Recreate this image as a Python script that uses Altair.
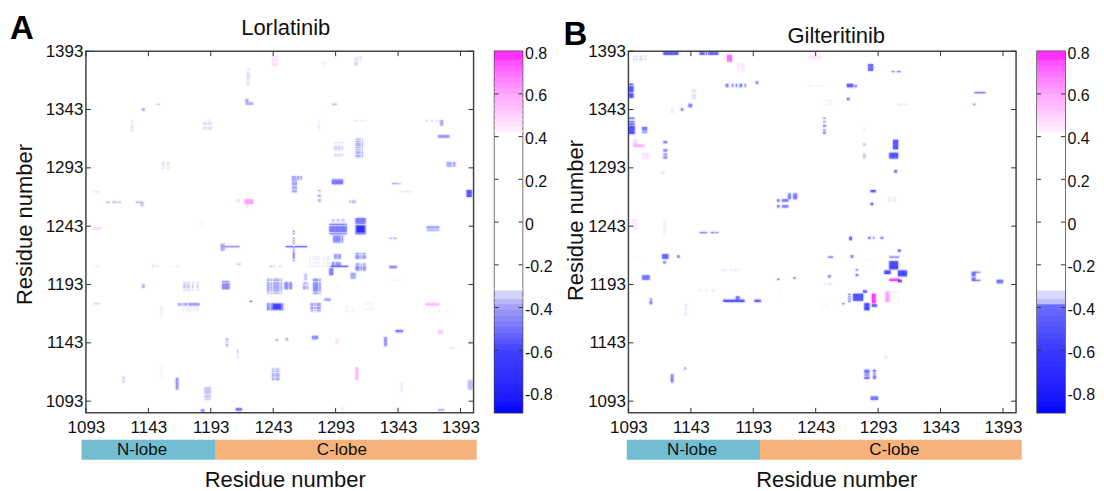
import altair as alt
import pandas as pd

FONT = "Liberation Sans"
x_ticks = [1093, 1143, 1193, 1243, 1293, 1343, 1393]
y_ticks = [1093, 1143, 1193, 1243, 1293, 1343, 1393]
bar_ticks = [-0.8, -0.6, -0.4, -0.2, 0, 0.2, 0.4, 0.6, 0.8]
band_edges = [-0.893, -0.865, -0.84, -0.81, -0.785, -0.76, -0.73, -0.705, -0.68, -0.65, -0.625, -0.6, -0.57, -0.545,
              -0.52, -0.49, -0.465, -0.44, -0.41, -0.385, -0.36, -0.32,
              0.42, 0.445, 0.47, 0.495, 0.52, 0.545, 0.57, 0.6, 0.625, 0.65, 0.68, 0.705, 0.73, 0.76, 0.8]

# (residues on x, residues on y, correlation)
lorlatinib_cells = [
    ([1238,1239,1241,1242,1243,1244,1245,1246,1247,1248,1249,1250], [1171,1172,1173,1174,1175,1176], -0.5),
    ([1243,1244,1245,1246,1247,1248], [1172,1173,1174,1175], -0.8),
    ([1238,1239,1241,1243,1244,1245,1246,1247,1249], [1185,1187,1188,1189,1190,1191,1192,1193,1194,1196,1197], -0.42),
    ([1252,1253,1254,1256,1257], [1189,1190,1191,1192,1193,1194], -0.5),
    ([1275,1276,1277,1278,1280], [1185,1187,1188,1189,1190,1191,1192,1193,1194,1196,1197], -0.5),
    ([1273,1274,1276,1278,1279,1280], [1170,1172,1173,1175,1176], -0.5),
    ([1267,1268,1270], [1189,1190,1191,1193], -0.45),
    ([1202,1203,1204,1205,1206,1207], [1189,1190,1191,1192,1193,1195], -0.5),
    ([1171,1172,1174,1175,1178,1182], [1188,1190,1191,1192,1194], -0.37),
    ([1167,1168,1170,1172,1173,1175,1176,1177,1178,1179,1180,1181,1182,1183], [1175,1176], -0.48),
    ([1171,1174,1176,1179,1182], [1170,1172], -0.34),
    ([1288,1289,1290,1291,1292,1293,1294,1295,1296,1297,1298,1299,1300,1301], [1236,1238,1239,1240,1241,1242,1244], -0.55),
    ([1290,1291,1294,1295,1298,1299], [1247,1248], -0.38),
    ([1291,1292,1293,1294,1295,1296,1298], [1229,1230,1231,1232,1233,1234], -0.5),
    ([1309,1310,1311,1312,1313,1314,1315,1316], [1236,1237,1238,1239,1240,1241,1242,1243,1245,1246,1247,1248,1249], -0.55),
    ([1310,1311,1312,1313,1314,1315], [1238,1239,1240,1241,1242], -0.85),
    ([1253,1254,1255,1256,1257,1258,1260,1261,1262,1263,1264,1265,1266,1267,1268,1269], [1225], -0.6),
    ([1259], [1213,1215,1216,1217,1218,1219,1220,1222,1224,1228,1230,1232,1236,1238], -0.6),
    ([1201,1202,1203,1204,1205,1206,1207,1208,1209,1210,1211,1212,1213,1214,1215], [1225], -0.5),
    ([1201,1202,1203], [1222,1223,1224,1226,1227], -0.4),
    ([1289,1290,1291,1292,1293,1294,1295,1296,1297,1298,1299,1300,1301,1302], [1208], -0.7),
    ([1290,1291,1293,1294,1295,1296], [1209,1210,1211], -0.5),
    ([1292,1293,1295,1296], [1215,1216,1217,1218], -0.5),
    ([1309,1310,1311,1313,1315,1316], [1205,1206,1207,1208,1210,1215,1216,1217,1219], -0.5),
    ([1288,1289,1290], [1201,1202,1203,1204,1205,1206], -0.55),
    ([1290,1291,1292,1293,1294,1295,1296,1297,1298], [1279,1280,1281,1282], -0.55),
    ([1258,1259,1260,1262,1263,1265], [1283,1284,1285], -0.45),
    ([1258,1259,1260,1261], [1272,1273,1275,1276,1278,1279,1280,1282], -0.45),
    ([1309,1310,1311,1312,1314], [1302,1303,1305,1306,1308,1310,1312,1313,1315,1317], -0.42),
    ([1292,1293,1295,1296,1298], [1303,1304,1308,1309,1310,1311,1314], -0.35),
    ([1366,1367,1368,1369,1370,1371,1372,1373,1374,1375], [1239,1241,1242], -0.45),
    ([1375,1376,1377,1378,1379,1380,1381,1382,1383], [1319,1320], -0.5),
    ([1382,1383,1384,1385,1387,1388], [1294,1295,1296,1297], -0.42),
    ([1398,1399,1400,1401], [1268,1269,1270,1271,1272,1273], -0.75),
    ([1341,1342,1343,1344,1345,1346], [1152,1153], -0.55),
    ([1332,1333], [1140,1141,1142,1143,1144,1145,1146,1147], -0.5),
    ([1242,1243,1245,1246,1247], [1111,1112,1114,1115,1116,1118,1120], -0.42),
    ([1309,1310], [1111,1112,1113,1114,1115,1116,1117,1118,1119,1120,1121], 0.6),
    ([1165,1166], [1103,1104,1105,1106,1107,1108,1109,1110,1111,1112], -0.48),
    ([1188,1189,1190,1191,1192], [1094,1096,1097,1099,1100,1101,1102,1103,1104], -0.37),
    ([1213,1214,1215,1216,1217], [1085,1086], -0.6),
    ([1399,1400,1401,1402], [1103,1104,1105,1106,1107,1108,1109,1110], -0.38),
    ([1345,1346], [1101,1103,1104,1106,1108], -0.33),
    ([1220,1221,1222,1223,1224,1225,1226], [1262,1263,1264,1265], 0.65),
    ([1221,1222], [1259,1260,1261], 0.5),
    ([1214,1215], [1264,1265], 0.55),
    ([1242,1243,1244,1245,1246], [1381,1382,1384,1385,1386,1388], 0.48),
    ([1222,1223], [1364,1366,1368,1370,1371,1372,1374,1377], -0.35),
    ([1221,1222,1223,1224,1225,1226], [1347,1348], -0.42),
    ([1221,1222], [1349,1350,1351], -0.45),
    ([1098,1099,1100,1101,1102,1103,1104], [1240,1241], 0.5),
    ([1109,1110,1111,1114,1115,1116,1117,1119,1120], [1263], -0.4),
    ([1133,1134,1135,1136,1137,1138], [1263], -0.42),
    ([1137,1138], [1260,1261,1262], -0.38),
    ([1365,1366,1367,1368,1369,1370,1371,1372,1373,1374,1375], [1175,1176], 0.6),
    ([1365,1366,1369,1370,1373,1375], [1333], -0.35),
    ([1377,1378], [1329,1330,1331,1332,1333], -0.45),
    ([1129,1130], [1324,1325,1327,1328,1329,1331,1333], -0.33),
    ([1187,1188,1189,1191,1192,1193], [1326,1327,1330,1331], -0.34),
    ([1191], [1333,1334], -0.33),
    ([1154,1155,1158,1159], [1292,1293,1295,1296,1297], -0.33),
    ([1336,1337,1338,1339,1340,1341], [1207,1208], -0.5),
    ([1336,1337,1339,1340,1341], [1232], -0.4),
    ([1279], [1325,1327,1328,1330,1333], -0.34),
    ([1279,1280], [1264,1265,1268,1269,1273], -0.42),
    ([1338,1339,1340,1341,1342,1344], [1279], -0.42),
    ([1345,1347,1349,1350,1351,1353], [1272], -0.34),
    ([1308,1309,1312,1314,1316], [1333], -0.33),
    ([1290,1291,1292,1293], [1347], -0.4),
    ([1150,1151], [1347], -0.4),
    ([1138,1139], [1342,1343], -0.45),
    ([1099,1100,1101,1102,1103], [1272], -0.33),
    ([1099,1100,1101,1102,1103], [1176], -0.36),
    ([1153], [1166,1168,1170,1172,1173], -0.34),
    ([1153], [1113,1115,1118,1120,1122], -0.33),
    ([1205,1206], [1140,1141,1143,1145,1146], -0.38),
    ([1214], [1130,1132,1134,1135,1136], -0.37),
    ([1274,1275,1276,1277,1278], [1146,1147,1148], -0.5),
    ([1245,1246], [1145], -0.45),
    ([1253,1254], [1145,1146], -0.4),
    ([1268,1269], [1194,1197,1199,1201], -0.45),
    ([1272,1275,1277,1279,1283,1286,1287], [1208,1211,1214,1216], -0.34),
    ([1305,1306,1307,1308], [1198,1199,1200,1201,1202], -0.42),
    ([1304,1306,1307,1308], [1263,1264], -0.4),
    ([1224,1225], [1178], -0.55),
    ([1284,1285,1286,1287,1288], [1179,1180], -0.45),
    ([1146,1147,1150], [1208,1209], -0.33),
    ([1162,1165,1167], [1208], -0.33),
    ([1240,1241,1243,1248], [1208], -0.38),
    ([1138,1139], [1190,1191,1192], -0.42),
    ([1122,1123], [1109,1110,1112,1113], -0.36),
    ([1214,1215,1216], [1210], -0.37),
    ([1375,1376,1378,1382], [1170], -0.33),
    ([1375,1376,1377,1378,1379], [1085], -0.45),
    ([1185,1186,1187], [1084,1085], -0.5),
    ([1375,1376,1377,1378], [1151,1152,1153], 0.55),
    ([1399,1400,1401], [1142,1143,1144], 0.5),
    ([1384,1385,1386,1388], [1138], -0.33),
    ([1340,1341,1342,1343,1344], [1086,1085], 0.45),
    ([1297,1298,1299], [1085,1086,1087], 0.45),
    ([1293,1294], [1142,1143,1144,1145], 0.5),
    ([1098,1100,1101,1102,1103], [1208], 0.45),
    ([1338,1339,1341,1342,1343], [1196], 0.45),
    ([1316,1318,1320,1322], [1171,1172,1176,1177], 0.45),
    ([1282,1283,1284], [1380,1382,1383], 0.45),
    ([1294,1295], [1188,1190,1192], 0.44),
    ([1301,1302,1306,1307], [1169,1170,1173], 0.45),
    ([1184,1185,1186], [1244,1245,1246], 0.44),
    ([1312,1313], [1384,1386,1387,1388], -0.33),
    ([1308,1309,1310], [1381,1382,1383,1385,1387], -0.34),
]

# (residues on x, residues on y, correlation)
gilteritinib_cells = [
    ([1121,1122,1123,1124,1125,1126,1127,1128,1129,1130,1131,1132], [1390,1391], -0.8),
    ([1150,1151,1152,1153,1155,1157,1158,1159,1160,1161,1162,1163,1164], [1390,1391], -0.7),
    ([1172,1173,1174,1175], [1384,1385,1386,1387,1388,1389], 0.75),
    ([1169,1170,1176], [1387,1389], 0.45),
    ([1180,1181,1183,1184,1185], [1376,1378,1379,1380,1381,1382], 0.47),
    ([1237,1238,1239,1240,1241,1242,1244,1245,1246,1247], [1386,1387,1388], 0.46),
    ([1285,1286,1287,1288], [1376,1377,1378,1379,1380,1381], -0.55),
    ([1304,1305,1308,1309,1310], [1375], -0.42),
    ([1171,1172,1176,1179,1182,1183,1186], [1362,1363,1364], -0.42),
    ([1195,1196], [1365,1366], -0.45),
    ([1268,1269,1270,1271,1272], [1362,1363,1364], -0.6),
    ([1274,1275], [1362,1363], -0.42),
    ([1370,1371,1372,1373,1374,1375,1376,1377,1378], [1357], -0.5),
    ([1093,1094,1095,1096], [1353,1354,1355,1356,1358,1359,1360,1361,1362,1364], -0.7),
    ([1093,1094,1095,1096,1097], [1322,1323,1324,1325,1326,1327,1328,1330,1332,1335], -0.7),
    ([1104,1105,1106,1107], [1323,1325,1326,1327], -0.5),
    ([1097,1098,1099,1100,1101,1102,1103,1104,1105], [1311,1312], 0.62),
    ([1097,1098,1099], [1313,1314,1316], 0.55),
    ([1104,1105,1106,1107,1108,1109], [1301,1302,1303,1304,1305], 0.46),
    ([1121,1122,1123], [1301,1302,1304,1307,1308,1314,1315], -0.42),
    ([1144,1145,1146], [1358,1359,1354,1355,1352], -0.34),
    ([1141,1142,1143], [1345,1346,1347], -0.42),
    ([1135,1136], [1342,1343], -0.45),
    ([1127,1128], [1340,1341,1343], -0.33),
    ([1249,1250], [1322,1323,1325,1328,1329,1332,1335], -0.43),
    ([1305,1306,1307,1308], [1309,1310,1311,1312,1313,1314,1315,1316], -0.7),
    ([1302,1303,1304,1305,1306,1307,1308], [1301,1302,1303,1304,1305], -0.7),
    ([1306,1307], [1289,1290], -0.7),
    ([1287,1288,1289,1290], [1272,1273], -0.7),
    ([1287,1288], [1261,1262], -0.55),
    ([1301,1302,1305,1306], [1264,1265,1267], -0.33),
    ([1221,1222,1225,1226,1227], [1266,1267,1268,1269,1270], -0.48),
    ([1212,1213,1216,1217,1218,1219,1220], [1259,1260,1264,1265], -0.5),
    ([1150,1151,1152,1153,1154,1155,1159,1160,1161,1163,1164], [1237], -0.42),
    ([1096,1097,1098,1099], [1240,1241,1243,1245,1247,1248], 0.46),
    ([1121,1122], [1236,1238,1240,1243,1245,1247], -0.33),
    ([1270,1271], [1231,1232,1233], -0.6),
    ([1285,1286,1289,1295,1296], [1232,1233], -0.42),
    ([1120,1121,1122,1123,1124], [1215,1216,1217,1218], -0.58),
    ([1121,1122], [1211,1212], -0.45),
    ([1132,1133], [1216,1217], -0.45),
    ([1253,1254,1255,1256], [1216], -0.52),
    ([1302,1303,1304,1305,1306,1307,1308], [1206,1207,1208,1209,1210,1211,1212], -0.8),
    ([1302,1303,1304,1305,1306,1307,1308,1309], [1216], -0.42),
    ([1309,1310], [1221,1222], -0.6),
    ([1309,1310,1311,1312,1313,1314,1315], [1200,1201,1202,1203,1204], -0.8),
    ([1298,1299,1300,1301,1302], [1202,1203,1204], -0.8),
    ([1302,1303,1304,1305,1306,1307,1308,1309], [1196,1197], 0.85),
    ([1309,1310,1311], [1195,1196], -0.7),
    ([1273,1274,1275,1276,1277,1278,1279,1280], [1179,1180,1181,1182,1183,1184], -0.75),
    ([1269,1270], [1178,1180,1182,1184], -0.45),
    ([1282,1283,1284,1285], [1171,1172,1173,1174,1175,1176], -0.8),
    ([1281,1282,1283], [1186,1187], -0.7),
    ([1288,1289,1290,1291], [1174,1175], -0.7),
    ([1288,1289,1290], [1177,1178,1179,1180,1181,1182,1183,1184], 0.85),
    ([1299,1300,1301], [1178,1179,1180,1181,1182,1183,1184,1185,1186], 0.65),
    ([1301,1302,1303,1304,1305,1306,1307,1308], [1186], 0.46),
    ([1308,1309], [1180,1178,1182], 0.44),
    ([1169,1170,1171,1172,1173,1174,1175,1176,1177,1178,1179,1180,1181,1182,1183,1184,1185], [1178,1179], -0.75),
    ([1179,1180,1181], [1180,1181,1182], -0.5),
    ([1194,1195,1196,1197,1198], [1178,1179], -0.62),
    ([1104,1105,1106,1107,1108,1109], [1197,1198,1199,1200], -0.5),
    ([1110,1111], [1176,1177,1178,1180], -0.42),
    ([1138,1139], [1166,1168,1171,1173,1175], -0.34),
    ([1212,1213], [1197], -0.6),
    ([1225,1226], [1198], -0.5),
    ([1368,1369,1370], [1196,1197,1198,1200,1201,1202,1203], -0.5),
    ([1370,1371,1372,1373,1374], [1196,1203], -0.42),
    ([1388,1389,1390,1391,1392], [1194,1195,1196], -0.5),
    ([1127,1128], [1109,1110,1111,1112,1113,1114,1115], -0.42),
    ([1138], [1120,1121], -0.42),
    ([1282,1283,1284,1285], [1112,1113,1115,1117,1118,1119], -0.5),
    ([1289,1290], [1112,1113,1114,1116,1118,1119], -0.55),
    ([1287,1288,1289,1290,1291,1292], [1094,1095,1096], -0.5),
    ([1264,1265], [1176], -0.52),
    ([1271,1272], [1216,1217], -0.5),
    ([1275,1276], [1200,1201,1205], -0.42),
    ([1253,1254], [1199,1200], -0.42),
    ([1250,1253,1254,1255], [1193], -0.35),
    ([1369,1370], [1347], -0.42),
    ([1309,1310,1312,1314,1316], [1347], -0.35),
    ([1281,1282], [1301,1302,1303,1304,1312,1313], -0.38),
    ([1168,1169,1171,1175,1178,1180], [1205], -0.35),
    ([1097,1099,1102,1103,1106], [1385,1386,1388], -0.36),
    ([1119,1120,1121], [1288,1289], -0.33),
    ([1237,1239,1243,1246,1249], [1363], -0.33),
    ([1253,1254,1255,1250], [1350,1347], -0.33),
    ([1268,1269], [1351,1352], -0.45),
    ([1298,1299], [1130,1131], -0.33),
    ([1150,1155,1160,1161], [1187,1188], -0.33),
    ([1214,1215], [1183,1186], 0.44),
    ([1095,1096,1098,1100,1102,1104], [1215], 0.44),
    ([1280,1283,1285,1288], [1205,1208,1213,1215], 0.44),
    ([1281,1282], [1325,1326], 0.46),
    ([1248,1251,1252], [1172,1174,1176], 0.44),
]

POS_STOPS = [0.42, 0.43, 0.8]
POS_COLS = ["#ffffff", "#ffeeff", "#ff00ff"]
a_domain = [-0.893, -0.6, -0.4, -0.33, -0.32] + POS_STOPS
a_range = ["#0000ff", "#4040ff", "#a0a0f4", "#dcdcfb", "#ffffff"] + POS_COLS
b_domain = [-0.893, -0.6, -0.39, -0.38, -0.33, -0.32] + POS_STOPS
b_range = ["#0000ff", "#3838ff", "#6c6cff", "#b8b8fa", "#e0e0fc", "#ffffff"] + POS_COLS
lobes_a = [("N-lobe", 1089.5, 1197, "#72bdd1", 1138), ("C-lobe", 1197, 1406, "#f5b27a", 1298)]
lobes_b = [("N-lobe", 1091.7, 1198.4, "#72bdd1", 1144), ("C-lobe", 1198.4, 1408, "#f5b27a", 1306)]
x_scale = alt.Scale(domain=[1093, 1403.5], zero=False, nice=False)
y_scale = alt.Scale(domain=[1083, 1393], zero=False, nice=False)
TICK = "#333333"


def cells(rows):
    out = []
    for xs, ys, v in rows:
        for xv in xs:
            for yv in ys:
                out.append({"x": xv, "x2": xv + 1, "y": yv, "y2": yv + 1,
                            "hx": xv - 1, "hx2": xv + 2, "hy": yv - 1, "hy2": yv + 2, "v": v})
    return pd.DataFrame(out)


def panel(rows, domain, colors, lobes, title, title_x, title_y, letter, letter_x, letter_y, ytitle_x, xtitle_x, ytitle_y, w):
    tx = pd.DataFrame({"t": x_ticks})
    ty = pd.DataFrame({"t": y_ticks})
    df = cells(rows)
    color = alt.Color("v:Q", scale=alt.Scale(domain=domain, range=colors), legend=None)
    x_axis = alt.Axis(
        values=x_ticks, format="d", ticks=False, grid=False, domain=False, labelFlush=False, labelOverlap=False,
        labelFont=FONT, labelFontSize=17, labelColor="#111111", labelPadding=7, title="Residue number",
        titleFont=FONT, titleFontSize=22, titleFontWeight="normal", titleColor="#111111",
        titleX=xtitle_x, titleY=74, titleBaseline="alphabetic")
    y_axis = alt.Axis(
        values=y_ticks, format="d", ticks=False, grid=False, domain=False, labelFlush=False, labelOverlap=False,
        labelFont=FONT, labelFontSize=17, labelColor="#111111", labelPadding=3, title="Residue number",
        titleFont=FONT, titleFontSize=22, titleFontWeight="normal", titleColor="#111111",
        titleX=ytitle_x, titleY=ytitle_y, titleBaseline="alphabetic")
    halo = alt.Chart(df).mark_rect(stroke=None, opacity=0.07, clip=True).encode(
        x=alt.X("hx:Q", scale=x_scale, axis=x_axis), x2="hx2:Q",
        y=alt.Y("hy:Q", scale=y_scale, axis=y_axis), y2="hy2:Q",
        color=color,
    )
    heat = alt.Chart(df).mark_rect(stroke=None, opacity=0.7, clip=True).encode(
        x=alt.X("x:Q", scale=x_scale, axis=x_axis), x2="x2:Q",
        y=alt.Y("y:Q", scale=y_scale, axis=y_axis), y2="y2:Q",
        color=color,
    )
    t_bottom = alt.Chart(tx).mark_rule(color=TICK).encode(x=alt.X("t:Q", scale=x_scale, axis=x_axis), y=alt.value(357), y2=alt.value(362))
    t_top = alt.Chart(tx).mark_rule(color=TICK).encode(x=alt.X("t:Q", scale=x_scale, axis=x_axis), y=alt.value(0), y2=alt.value(5))
    t_left = alt.Chart(ty).mark_rule(color=TICK).encode(y=alt.Y("t:Q", scale=y_scale, axis=y_axis), x=alt.value(0), x2=alt.value(5))
    t_right = alt.Chart(ty).mark_rule(color=TICK).encode(y=alt.Y("t:Q", scale=y_scale, axis=y_axis), x=alt.value(w - 5), x2=alt.value(w))
    ldf = pd.DataFrame(lobes, columns=["name", "start", "end", "col", "mid"])
    bars = alt.Chart(ldf).mark_rect(clip=False).encode(
        x=alt.X("start:Q", scale=x_scale, axis=x_axis), x2="end:Q", y=alt.value(389), y2=alt.value(409),
        color=alt.Color("col:N", scale=None, legend=None))
    labels = alt.Chart(ldf).mark_text(font=FONT, fontSize=17, color="#111111").encode(
        x=alt.X("mid:Q", scale=x_scale, axis=x_axis), y=alt.value(399), text="name:N")
    let = alt.Chart(pd.DataFrame({"t": [letter]})).mark_text(
        font=FONT, fontSize=33, fontWeight="bold", color="#000000", align="left", baseline="middle"
    ).encode(x=alt.value(letter_x), y=alt.value(letter_y), text="t:N")
    ttl = alt.Chart(pd.DataFrame({"t": [title]})).mark_text(
        font=FONT, fontSize=22, color="#111111", align="center", baseline="middle"
    ).encode(x=alt.value(title_x), y=alt.value(title_y), text="t:N")
    return alt.layer(halo, heat, t_bottom, t_top, t_left, t_right, bars, labels, let, ttl).properties(
        width=w, height=362,
    ).resolve_scale(color="independent")


def colorbar(domain, colors):
    rows = []
    top = band_edges[-1]
    for lo, hi in zip(band_edges[:-1], band_edges[1:]):
        # A small overlap between neighbouring bands hides the seams.
        rows.append({"lo": lo, "hi": min(hi + 0.012, top), "v": (lo + hi) / 2 if lo != -0.32 else 0.0})
    bs = alt.Scale(domain=[band_edges[0], top], zero=False, nice=False)
    bar_axis = alt.Axis(
        orient="right", values=bar_ticks, ticks=False, grid=False, domain=False, title=None, labelFont=FONT,
        labelFontSize=16, labelColor="#111111", labelPadding=2, labelOffset=2, labelFlush=False,
        labelOverlap=False, labelExpr="'' + datum.value")
    bands = alt.Chart(pd.DataFrame(rows)).mark_rect(stroke=None).encode(
        y=alt.Y("lo:Q", scale=bs, axis=bar_axis),
        y2="hi:Q",
        x=alt.value(0), x2=alt.value(28),
        color=alt.Color("v:Q", scale=alt.Scale(domain=domain, range=colors), legend=None),
    )
    tb = pd.DataFrame({"t": [v for v in bar_ticks if v < 0.8]})
    t_l = alt.Chart(tb).mark_rule(color=TICK).encode(y=alt.Y("t:Q", scale=bs, axis=bar_axis), x=alt.value(0), x2=alt.value(4))
    t_r = alt.Chart(tb).mark_rule(color=TICK).encode(y=alt.Y("t:Q", scale=bs, axis=bar_axis), x=alt.value(24), x2=alt.value(28))
    return alt.layer(bands, t_l, t_r).properties(width=28, height=362)


def spacer(w):
    return alt.Chart(pd.DataFrame({"a": [0]})).mark_point(opacity=0).encode(
        x=alt.value(0), y=alt.value(0)
    ).properties(width=w, height=10, view=alt.ViewConfig(stroke=None))


panel_a = panel(lorlatinib_cells, a_domain, a_range, lobes_a, "Lorlatinib", 200, -23, "A", -76, -22, -54, 199, 173, 388)
panel_b = panel(gilteritinib_cells, b_domain, b_range, lobes_b, "Gilteritinib", 208, -15, "B", -65, -16, -46, 208, 169, 388)

chart = alt.hconcat(panel_a, colorbar(a_domain, a_range), spacer(64), panel_b, colorbar(b_domain, b_range),
                    spacing=21, bounds="flush").resolve_scale(color="independent").properties(
    padding={"left": 1, "top": 4, "right": 0, "bottom": 0},
    background="white",
).configure_view(stroke="#444444", strokeWidth=1.5)

chart.save("out.html", embed_options={"renderer": "svg", "actions": False})
